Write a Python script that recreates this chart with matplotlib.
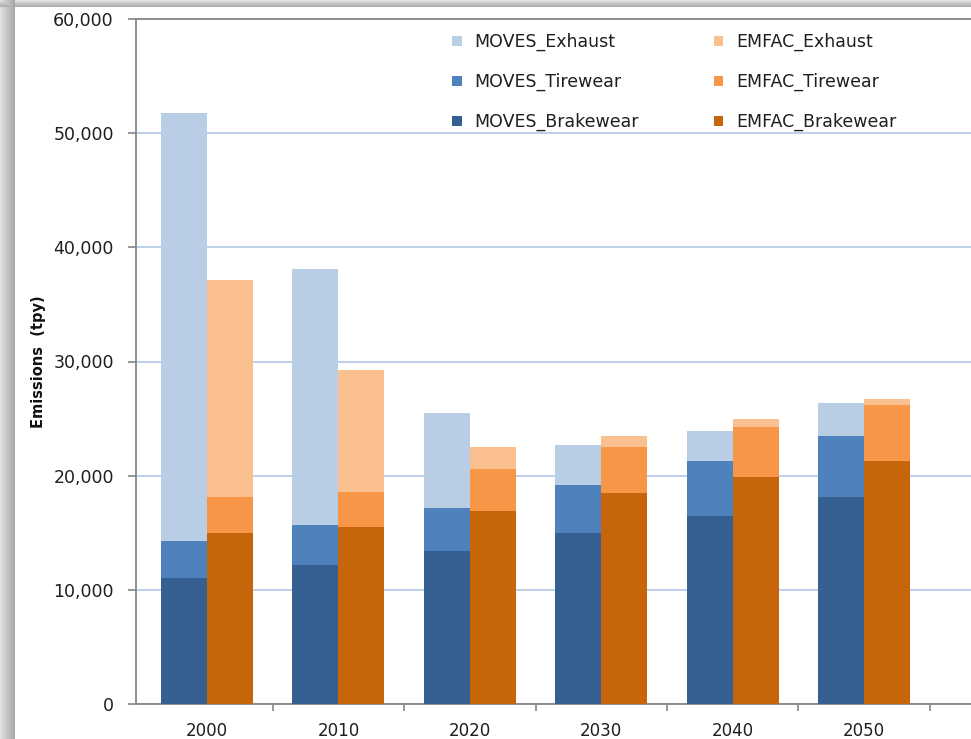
import matplotlib
matplotlib.use('Agg')
import matplotlib.pyplot as plt
import numpy as np

# Emissionen in Tonnen pro Jahr, je Jahr und Quelle
years = ['2000', '2010', '2020', '2030', '2040', '2050']

moves_brake   = [11000, 12200, 13400, 15000, 16500, 18100]
moves_tire    = [3300, 3500, 3800, 4200, 4800, 5400]
moves_exhaust = [37500, 22400, 8300, 3500, 2600, 2900]

emfac_brake   = [15000, 15500, 16900, 18500, 19900, 21300]
emfac_tire    = [3100, 3100, 3700, 4000, 4400, 4900]
emfac_exhaust = [19000, 10650, 1900, 1000, 700, 500]

col = {'moves_brake': '#366092', 'moves_tire': '#4F81BD', 'moves_exhaust': '#B9CDE5',
       'emfac_brake': '#C6650A', 'emfac_tire': '#F79646', 'emfac_exhaust': '#FAC090'}

W, H = 971, 739
fig = plt.figure(figsize=(W / 100, H / 100), dpi=100)

# Schatten links und oben
bg = fig.add_axes([0, 0, 1, 1], zorder=-10)
xx = np.arange(W)[None, :]
yy = np.arange(H)[:, None]
sx = np.clip((15 - xx) / 15, 0, 1)
sy = np.clip((7 - yy) / 7, 0, 1)
left_part = np.where(xx < 15, 0.64 + 0.24 * sx, 1.0) * np.ones((H, W))
top_part = np.where(yy < 7, 0.64 + 0.24 * sy, 1.0) * np.ones((H, W))
shade = np.minimum(left_part, top_part)
bg.imshow(shade, cmap='gray', vmin=0, vmax=1, aspect='auto', interpolation='bilinear')
bg.axis('off')

# Plotbereich (rechter Rand liegt ausserhalb des Bildes)
x0, x1 = 136, 990
y_top, y_bot = 19, 704
ax = fig.add_axes([x0 / W, (H - y_bot) / H, (x1 - x0) / W, (y_bot - y_top) / H])

step = 131.4
c0 = 207
ax.set_xlim(-(c0 - x0) / step, (x1 - c0) / step)
ax.set_ylim(0, 60000)

x = np.arange(len(years))
bw = 0.35

ax.bar(x - bw / 2, moves_brake, bw, color=col['moves_brake'], label='MOVES_Brakewear', zorder=3)
ax.bar(x - bw / 2, moves_tire, bw, bottom=moves_brake, color=col['moves_tire'],
       label='MOVES_Tirewear', zorder=3)
ax.bar(x - bw / 2, moves_exhaust, bw, bottom=np.add(moves_brake, moves_tire),
       color=col['moves_exhaust'], label='MOVES_Exhaust', zorder=3)

ax.bar(x + bw / 2, emfac_brake, bw, color=col['emfac_brake'], label='EMFAC_Brakewear', zorder=3)
ax.bar(x + bw / 2, emfac_tire, bw, bottom=emfac_brake, color=col['emfac_tire'],
       label='EMFAC_Tirewear', zorder=3)
ax.bar(x + bw / 2, emfac_exhaust, bw, bottom=np.add(emfac_brake, emfac_tire),
       color=col['emfac_exhaust'], label='EMFAC_Exhaust', zorder=3)

# Achsen
for s in ['left', 'bottom', 'top']:
    ax.spines[s].set_color('#868686')
    ax.spines[s].set_linewidth(1.3)
ax.spines['right'].set_visible(False)

ax.yaxis.grid(True, color='#B3C7E6', linewidth=1.2)
ax.set_axisbelow(True)
ax.set_yticks(np.arange(0, 60001, 10000))
ax.yaxis.set_major_formatter('{x:,.0f}')
ax.tick_params(axis='y', direction='out', length=6, width=1.2, color='#868686',
               pad=10, labelsize=12.5, labelcolor='#1E1E1E')

ax.set_xticks(x, years)
ax.set_xticks(np.arange(len(years)) + 0.5, minor=True)
ax.tick_params(axis='x', which='major', length=0, pad=13, labelsize=12, labelcolor='#1E1E1E')
ax.tick_params(axis='x', which='minor', direction='out', length=5, width=1.2, color='#868686')

ax.set_ylabel('Emissions  (tpy)', fontsize=10.5, fontweight='bold', color='#111111', labelpad=5)

handles, labels = ax.get_legend_handles_labels()
order = [2, 1, 0, 5, 4, 3]
leg = ax.legend([handles[i] for i in order], [labels[i] for i in order],
                ncol=2, loc='upper left', bbox_to_anchor=(452 / W, (H - 33) / H),
                bbox_transform=fig.transFigure, frameon=False, fontsize=12.5,
                handlelength=0.55, handleheight=0.55, handletextpad=0.75,
                labelspacing=1.25, columnspacing=4.3, borderpad=0, borderaxespad=0)
for t in leg.get_texts():
    t.set_color('#1E1E1E')

fig.savefig('out.png', dpi=100)
